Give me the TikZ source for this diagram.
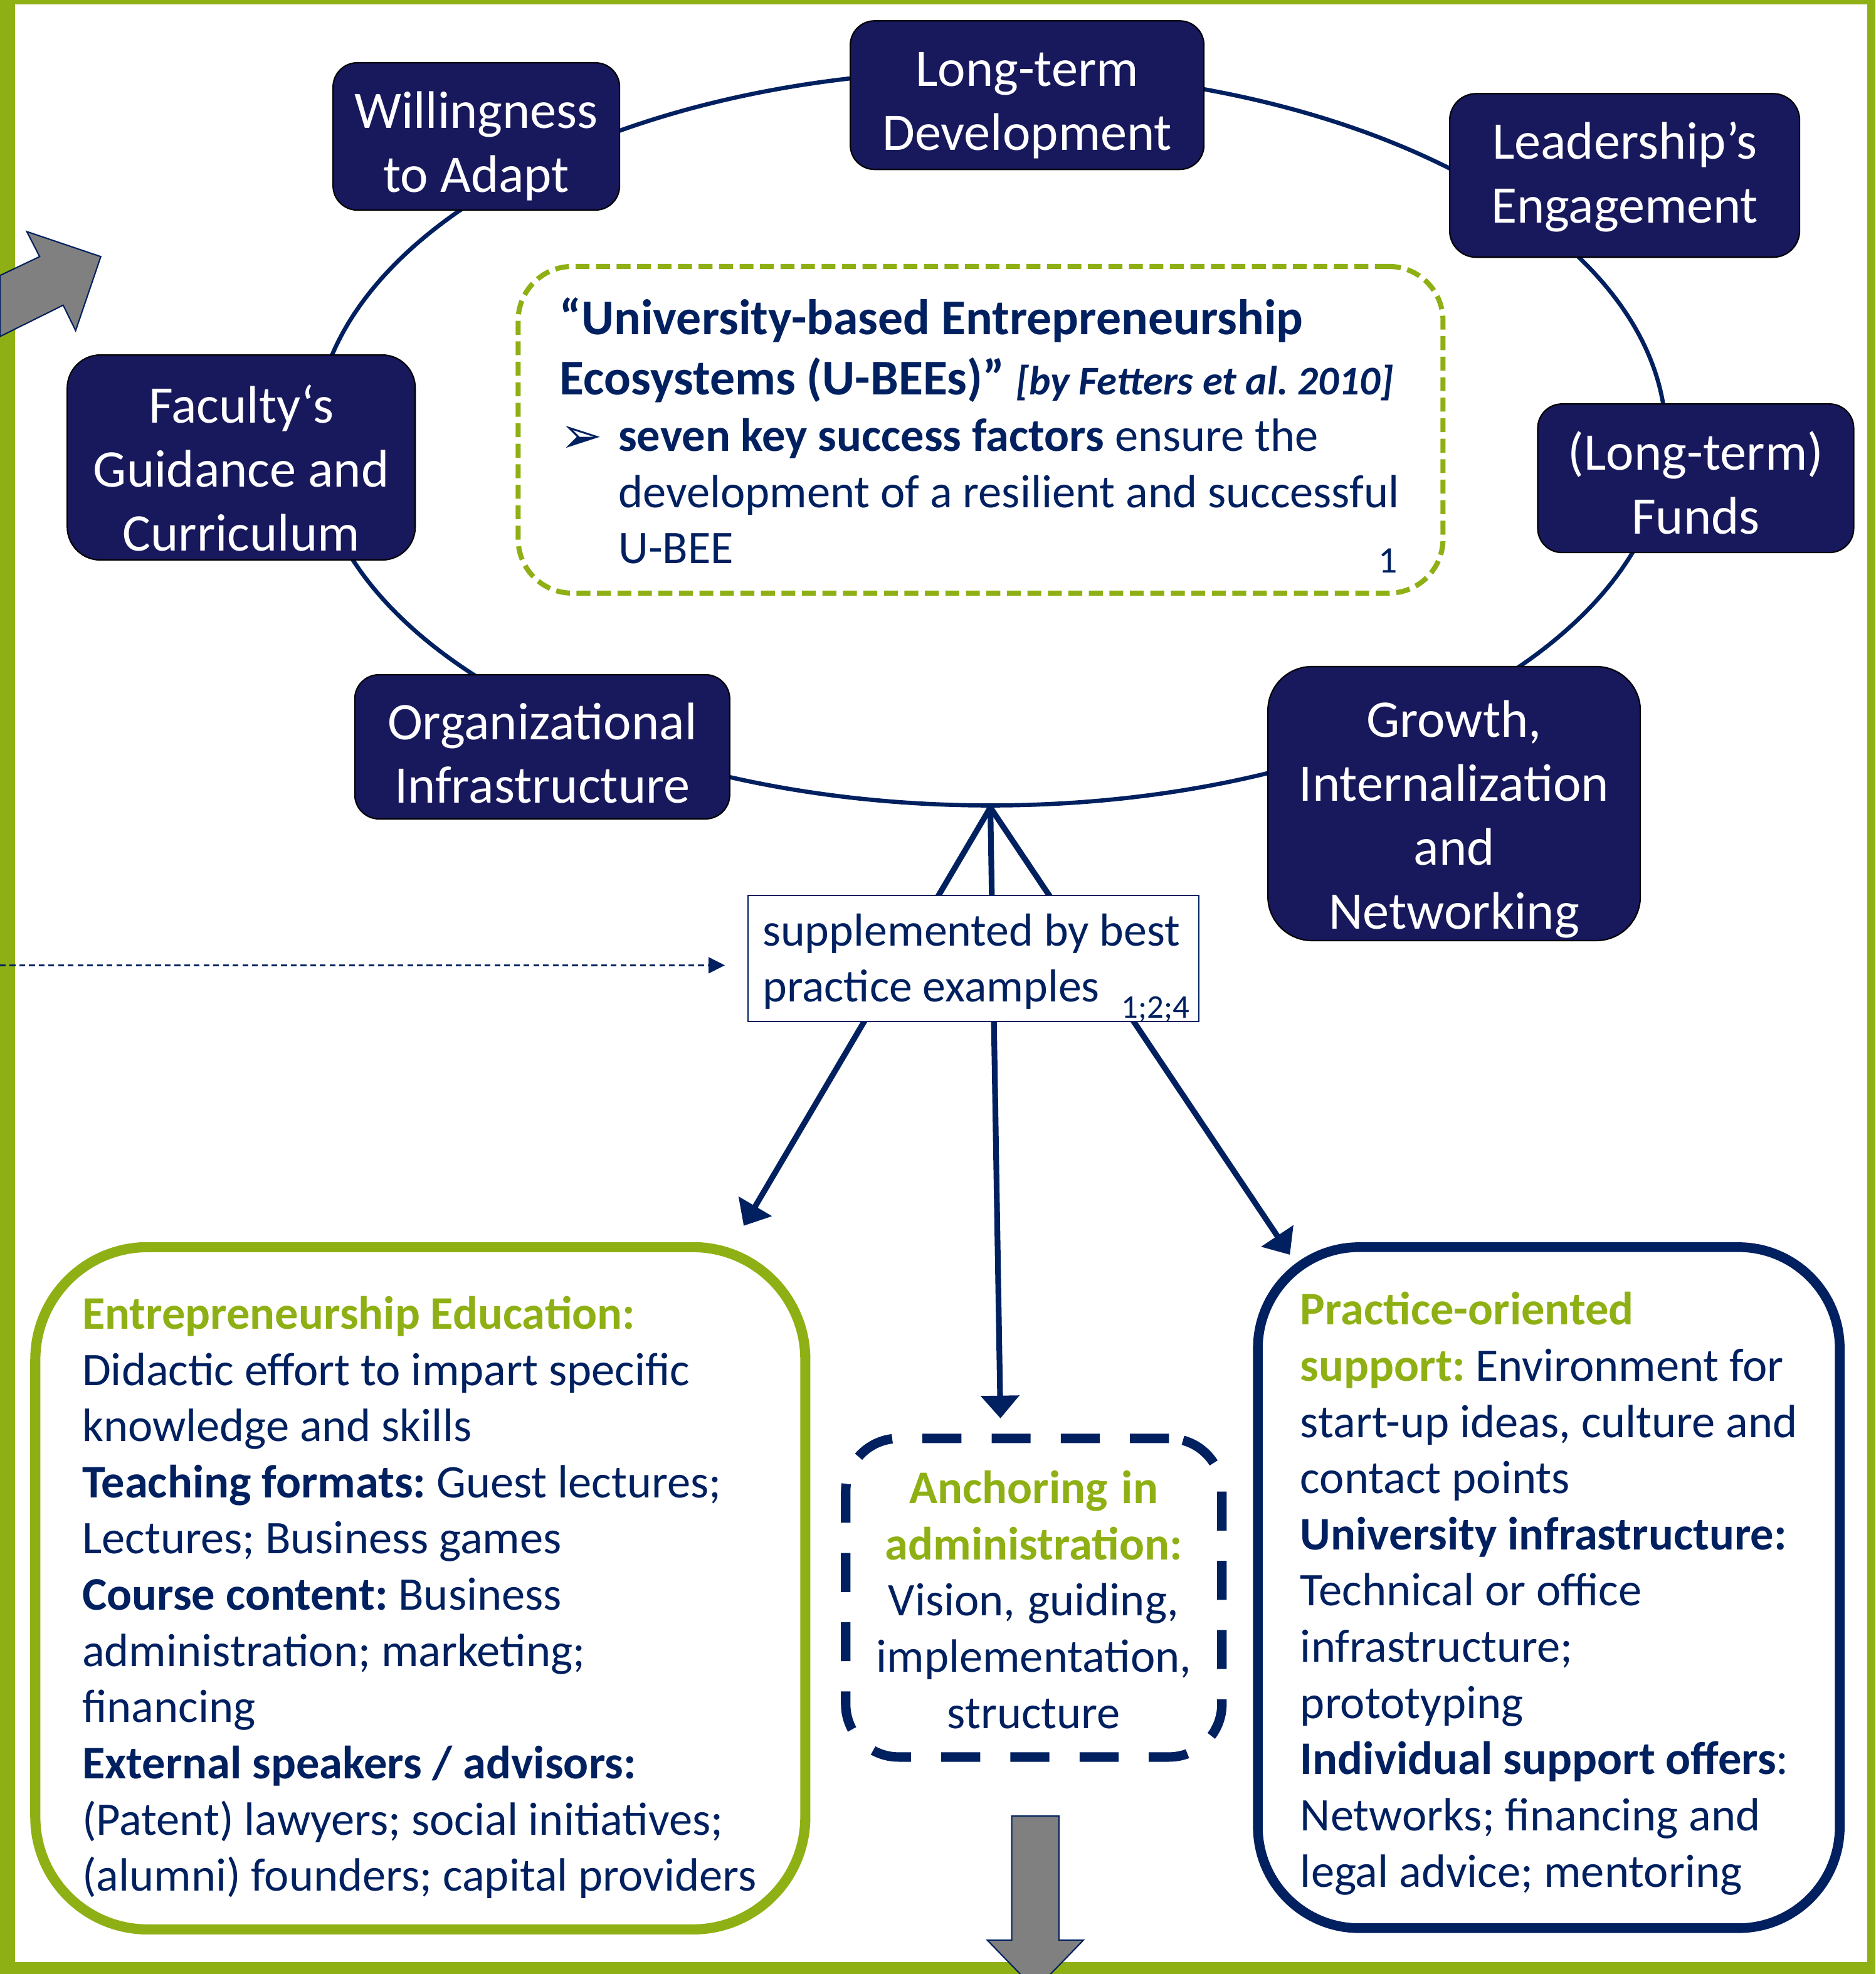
\documentclass[tikz,border=0pt]{standalone}
\usepackage{fontspec}
\setmainfont{Carlito}
\newfontfamily\dingfont{DejaVu Sans}
\usepackage{tikz}
\usetikzlibrary{shapes.geometric}
\usetikzlibrary{arrows.meta}
\frenchspacing
\definecolor{ubeegreen}{RGB}{143,176,20}
\definecolor{ubeenavy}{RGB}{0,32,96}
\definecolor{factorfill}{RGB}{24,24,92}
\newcommand\factorfont{\fontsize{24}{29}\selectfont}
\newcommand\boxfont{\fontsize{21.2}{25.5}\selectfont}
\tikzstyle{factor}=[rectangle,rounded corners=11pt,draw=black,line width=0.6pt,fill=factorfill,inner sep=0mm]
\tikzstyle{factorlabel}=[text=white,align=center,font=\factorfont,inner sep=0mm]
\tikzstyle{ring}=[ellipse,draw=ubeenavy,line width=1.9pt,minimum width=215.5mm,minimum height=117.2mm,inner sep=0mm]
\tikzstyle{ubeebox}=[rectangle,rounded corners=24.6pt,draw=ubeegreen,line width=2.3pt,dash pattern=on 6.3pt off 3pt,minimum width=147.5mm,minimum height=52.1mm]
\tikzstyle{bestbox}=[rectangle,draw=ubeenavy,line width=0.6pt,fill=white,minimum width=71.9mm,minimum height=20.1mm]
\tikzstyle{edubox}=[rectangle,rounded corners=51pt,draw=ubeegreen,line width=4.6pt,minimum width=122.8mm,minimum height=108.8mm]
\tikzstyle{adminbox}=[rectangle,rounded corners=24pt,draw=ubeenavy,line width=4.3pt,dash pattern=on 17.7pt off 13.7pt,minimum width=60mm,minimum height=50.8mm]
\tikzstyle{supportbox}=[rectangle,rounded corners=46pt,draw=ubeenavy,line width=4.4pt,minimum width=92.8mm,minimum height=108.6mm]
\tikzstyle{textblock}=[inner sep=0mm,text=ubeenavy,font=\boxfont,anchor=base west,align=left,
  execute at begin node={\spaceskip=0pt\xspaceskip=0pt\relax}]
\tikzstyle{arrow}=[-{Triangle[length=10.3pt,width=17pt]},draw=ubeenavy,line width=2.6pt]
\tikzstyle{dasharrow}=[-{Triangle[length=7.4pt,width=7.3pt]},draw=ubeenavy,line width=0.7pt,dash pattern=on 2.6pt off 1.8pt]
\tikzstyle{blockarrow}=[fill=gray,draw=ubeenavy,line width=0.6pt]

\begin{document}
\begin{tikzpicture}[x=0.2007mm,y=-0.2007mm]
  \useasboundingbox (0,0) rectangle (1490.3,1568.5);
  % frame
  \fill[ubeegreen] (0,0) rectangle (1490.3,1568.5);
  \fill[white] (12,3.7) rectangle (1484,1559);

  \node[ring] at (787,348) (ring) {};
  \node[factor] at (816.2,75.6) (longterm) [minimum width=56.4mm, minimum height=23.7mm] {};
  \node[factor] at (378.5,108.4) (adapt) [minimum width=45.7mm, minimum height=23.5mm] {};
  \node[factor, rounded corners=12pt] at (1291,139.4) (leader) [minimum width=55.8mm, minimum height=26.1mm] {};
  \node[factor, rounded corners=15pt] at (191.7,363.5) (faculty) [minimum width=55.5mm, minimum height=32.7mm] {};
  \node[factor] at (1347.5,380) (funds) [minimum width=50.4mm, minimum height=23.7mm] {};
  \node[factor] at (430.9,593.4) (orga) [minimum width=59.8mm, minimum height=23mm] {};
  \node[factor, rounded corners=20pt] at (1155.5,638.5) (growth) [minimum width=59.4mm, minimum height=43.7mm] {};
  \node[factorlabel] at (816.2,83.6) (longtermtext) {Long-term\\Development};
  \node[factorlabel] at (378.5,116) (adapttext) {Willingness\\to Adapt};
  \node[factorlabel] at (1291,140.4) (leadertext) {Leadership’s\\Engagement};
  \node[factorlabel] at (191.7,372) (facultytext) {Faculty‘s\\Guidance and\\Curriculum};
  \node[factorlabel] at (1347.5,383.5) (fundstext) {(Long-term)\\Funds};
  \node[factorlabel] at (430.9,598.4) (orgatext) {Organizational\\Infrastructure};
  \node[factorlabel] at (1155.5,651) (growthtext) {Growth,\\Internalization\\and\\Networking};

  \node[ubeebox] at (779.2,341.5) (ubee) {};
  \node[textblock, text width=145mm, font=\fontsize{22.7}{27.2}\selectfont] at (444.4,266) (ubeetitle)
    {\textbf{“University-based Entrepreneurship}\\\textbf{Ecosystems (U-BEEs)”} {\fontsize{18.5}{21}\selectfont\bfseries\itshape [by Fetters et al. 2010]}};
  \node[textblock, font=\fontsize{23}{26}\selectfont\dingfont] at (445,360) (bullet) {➢};
  \node[textblock, text width=128mm] at (491,358.5) (ubeetext)
    {\textbf{seven key success factors} ensure the\\development of a resilient and successful\\U-BEE};
  \node[textblock, font=\fontsize{17}{20}\selectfont] at (1095,455.4) (ubeeref) {1};

  % arrows to the three pillars
  \coordinate (tipedu) at (591,974);
  \coordinate (tipadmin) at (795,1127);
  \coordinate (tipsupport) at (1025,997);
  \draw[arrow] (ring.south) -- (tipedu);
  \draw[arrow] (ring.south) -- (tipadmin);
  \draw[arrow] (ring.south) -- (tipsupport);

  \node[bestbox] at (773.5,761.5) (best) {};
  \node[textblock, text width=70mm, font=\fontsize{21}{25.4}\selectfont] at (605.7,751.4) (besttext) {supplemented by best\\practice examples};
  \node[textblock, font=\fontsize{15}{18}\selectfont] at (891,809) (bestref) {1;2;4};
  \coordinate (leftin) at (0,767);
  \coordinate (bestin) at (576,767);
  \draw[dasharrow] (leftin) -- (bestin);

  \node[edubox] at (334,1262) (edu) {};
  \node[textblock, text width=118mm] at (65,1056) (edutext)
    {\textcolor{ubeegreen}{\textbf{Entrepreneurship Education:}}\\
     Didactic effort to impart specific\\
     knowledge and skills\\
     \textbf{Teaching formats:} Guest lectures;\\
     Lectures; Business games\\
     \textbf{Course content:} Business\\
     administration; marketing;\\
     financing\\
     \textbf{External speakers / advisors:}\\
     (Patent) lawyers; social initiatives;\\
     (alumni) founders; capital providers};

  \node[adminbox] at (821.5,1269.5) (admin) {};
  \node[textblock, text width=58mm, align=center, anchor=base] at (821.5,1194.6) (admintext)
    {\textcolor{ubeegreen}{\textbf{Anchoring in}}\\
     \textcolor{ubeegreen}{\textbf{administration:}}\\
     Vision, guiding,\\
     implementation,\\
     structure};

  \node[supportbox] at (1230.75,1261.5) (support) {};
  \node[textblock, text width=88mm] at (1033,1052.7) (supporttext)
    {\textcolor{ubeegreen}{\textbf{Practice-oriented}}\\
     \textcolor{ubeegreen}{\textbf{support:}} Environment for\\
     start-up ideas, culture and\\
     contact points\\
     \textbf{University infrastructure:}\\
     Technical or office\\
     infrastructure;\\
     prototyping\\
     \textbf{Individual support offers}:\\
     Networks; financing and\\
     legal advice; mentoring};

  % grey block arrows at the edges
  \draw[blockarrow] (0,218.9) -- (31.5,203.9) -- (21.3,184) -- (80.1,203.9) -- (60.1,262.7) -- (50.2,242.5) -- (0,267.4) -- cycle;
  \draw[blockarrow] (804,1443) -- (841.5,1443) -- (841.5,1541.5) -- (861,1541.5) -- (822.75,1581) -- (784.5,1541.5) -- (804,1541.5) -- cycle;
\end{tikzpicture}
\end{document}
